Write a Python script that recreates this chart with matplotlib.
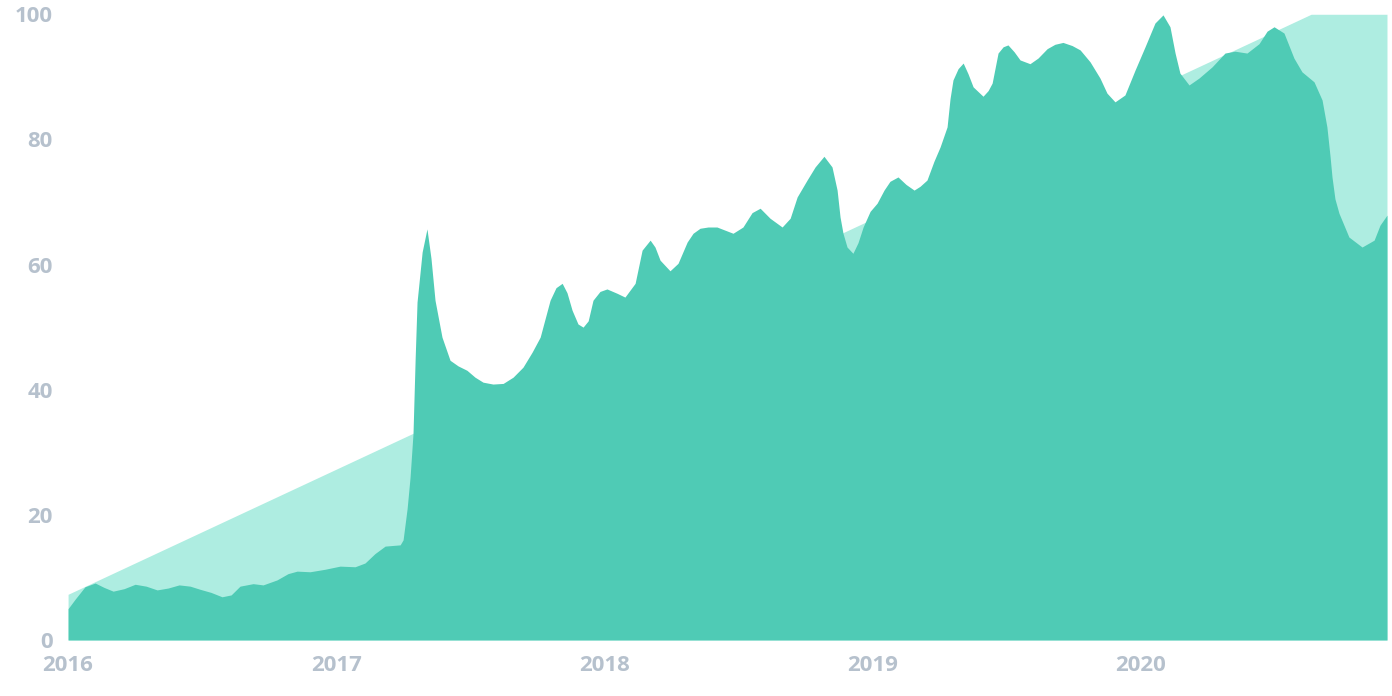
import matplotlib
matplotlib.use('Agg')
import matplotlib.pyplot as plt

# dates as decimal years
dates = [2016.000, 2016.026, 2016.063, 2016.101, 2016.134, 2016.168, 2016.209, 2016.250,
         2016.291, 2016.332, 2016.373, 2016.414, 2016.455, 2016.492, 2016.533, 2016.574,
         2016.608, 2016.641, 2016.690, 2016.727, 2016.779, 2016.820, 2016.854, 2016.902,
         2016.958, 2017.014, 2017.070, 2017.107, 2017.144, 2017.182, 2017.238, 2017.249,
         2017.264, 2017.275, 2017.286, 2017.294, 2017.301, 2017.320, 2017.338, 2017.353,
         2017.368, 2017.394, 2017.424, 2017.454, 2017.487, 2017.517, 2017.547, 2017.584,
         2017.622, 2017.659, 2017.696, 2017.730, 2017.760, 2017.797, 2017.819, 2017.842,
         2017.860, 2017.879, 2017.901, 2017.920, 2017.939, 2017.957, 2017.983, 2018.009,
         2018.047, 2018.076, 2018.114, 2018.140, 2018.170, 2018.188, 2018.207, 2018.244,
         2018.274, 2018.308, 2018.330, 2018.356, 2018.386, 2018.419, 2018.449, 2018.479,
         2018.516, 2018.550, 2018.580, 2018.617, 2018.662, 2018.692, 2018.718, 2018.755,
         2018.785, 2018.818, 2018.848, 2018.867, 2018.878, 2018.889, 2018.904, 2018.926,
         2018.945, 2018.964, 2018.990, 2019.016, 2019.042, 2019.064, 2019.094, 2019.124,
         2019.154, 2019.176, 2019.202, 2019.228, 2019.251, 2019.277, 2019.288, 2019.299,
         2019.318, 2019.337, 2019.355, 2019.374, 2019.411, 2019.430, 2019.445, 2019.467,
         2019.486, 2019.504, 2019.527, 2019.549, 2019.586, 2019.616, 2019.650, 2019.679,
         2019.709, 2019.743, 2019.773, 2019.810, 2019.847, 2019.873, 2019.903, 2019.940,
         2019.978, 2020.015, 2020.052, 2020.082, 2020.108, 2020.127, 2020.145, 2020.179,
         2020.216, 2020.265, 2020.313, 2020.350, 2020.395, 2020.440, 2020.470, 2020.496,
         2020.533, 2020.570, 2020.600, 2020.645, 2020.675, 2020.693, 2020.705, 2020.712,
         2020.723, 2020.738, 2020.775, 2020.824, 2020.869, 2020.891, 2020.917]

values = [5.0, 6.5, 8.5, 9.1, 8.4, 7.8, 8.2, 8.9,
          8.6, 8.0, 8.3, 8.8, 8.6, 8.1, 7.6, 6.9,
          7.2, 8.6, 9.0, 8.8, 9.6, 10.6, 11.0, 10.9,
          11.3, 11.8, 11.7, 12.3, 13.8, 15.0, 15.2, 16.0,
          21.0, 26.0, 33.0, 45.0, 54.0, 62.0, 65.7, 61.0,
          54.3, 48.4, 44.7, 43.8, 43.1, 42.0, 41.2, 40.9,
          41.0, 42.0, 43.6, 46.0, 48.4, 54.3, 56.3, 57.0,
          55.5, 52.7, 50.5, 50.0, 51.0, 54.3, 55.7, 56.1,
          55.4, 54.8, 57.0, 62.3, 63.9, 62.8, 60.7, 59.0,
          60.2, 63.6, 65.0, 65.8, 66.0, 66.0, 65.5, 65.0,
          66.0, 68.3, 69.0, 67.4, 66.0, 67.4, 70.8, 73.5,
          75.6, 77.3, 75.6, 71.9, 67.6, 65.0, 62.8, 61.8,
          63.5, 66.0, 68.5, 69.8, 71.9, 73.3, 74.0, 72.8,
          71.9, 72.5, 73.5, 76.5, 78.8, 82.0, 86.5, 89.5,
          91.3, 92.2, 90.5, 88.4, 86.9, 87.8, 89.0, 93.8,
          94.8, 95.1, 94.0, 92.7, 92.1, 93.0, 94.5, 95.2,
          95.5, 95.0, 94.3, 92.4, 89.8, 87.4, 86.0, 87.1,
          91.1, 94.8, 98.6, 99.9, 98.0, 93.8, 90.6, 88.7,
          89.8, 91.6, 93.8, 94.1, 93.8, 95.3, 97.3, 98.0,
          97.0, 93.0, 90.8, 89.2, 86.3, 82.0, 77.2, 74.0,
          70.5, 68.2, 64.4, 62.8, 63.9, 66.3, 67.9]

# the light background trend
trend_dates = [2016.000, 2020.634, 2020.917]
trend_values = [7.3, 100, 100]

years = [2016, 2017, 2018, 2019, 2020]
yticks = [0, 20, 40, 60, 80, 100]

fig = plt.figure(figsize=(13.92, 6.96), dpi=100)
ax = fig.add_axes([0.0489, 0.0805, 0.9475, 0.899])

ax.fill_between(trend_dates, trend_values, 0, color='#aeede1', linewidth=0)
ax.fill_between(dates, values, 0, color='#4fcbb5', linewidth=0)

ax.set_xlim(2016.0, 2020.917)
ax.set_ylim(0, 100)
ax.set_xticks(years)
ax.set_xticklabels([str(y) for y in years])
ax.set_yticks(yticks)

for s in ax.spines.values():
    s.set_visible(False)
ax.tick_params(length=0, labelsize=16, labelcolor='#b6c1cd')
ax.tick_params(axis='x', pad=11)
ax.tick_params(axis='y', pad=11)
for lab in ax.get_xticklabels() + ax.get_yticklabels():
    lab.set_fontfamily('Open Sans')
    lab.set_fontweight('bold')
for lab in ax.get_yticklabels():
    lab.set_verticalalignment('center_baseline')

fig.savefig('out.png', dpi=100)
